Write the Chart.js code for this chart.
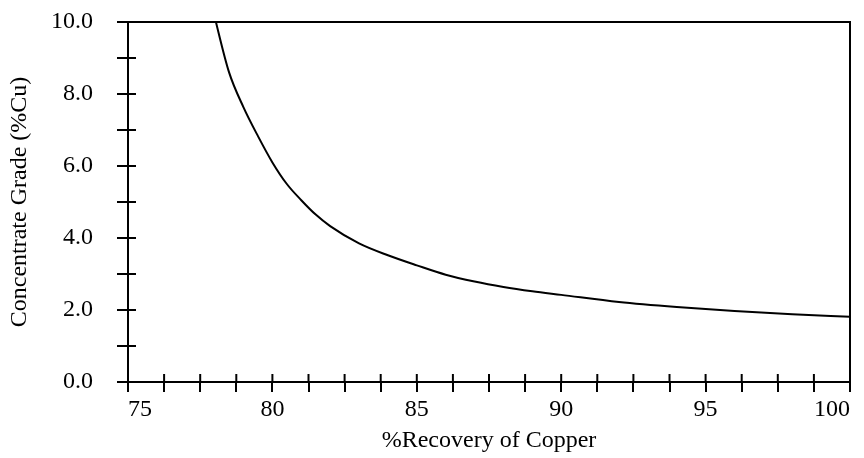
<!DOCTYPE html>
<html>
<head>
<meta charset="utf-8">
<script src="https://cdn.jsdelivr.net/npm/chart.js@4/dist/chart.umd.min.js"></script>
<style>
  html, body { margin: 0; padding: 0; background: #ffffff; }
  #wrap { width: 864px; height: 458px; position: relative; }
</style>
</head>
<body>
<div id="wrap"><canvas id="c"></canvas></div>
<script>
// Data
const recovery = [77.95, 78.5, 79, 79.5, 80, 80.5, 81, 81.5, 82, 83, 84, 85, 86, 87, 88, 89, 90, 92, 94, 96, 98, 100];
const grade    = [10.3, 8.6, 7.63, 6.83, 6.1, 5.5, 5.05, 4.65, 4.33, 3.85, 3.52, 3.24, 2.98, 2.79, 2.64, 2.52, 2.42, 2.22, 2.08, 1.97, 1.88, 1.81];
const xLabelValues = [75, 80, 85, 90, 95, 100];
const yLabelValues = [0, 2, 4, 6, 8, 10];
const xTitle = '%Recovery of Copper';
const yTitle = 'Concentrate Grade (%Cu)';

const FONT = 'Liberation Serif, Times New Roman, serif';

const points = recovery.map((r, i) => ({ x: r, y: grade[i] }));

const frameAndTicks = {
  id: 'frameAndTicks',
  afterDatasetsDraw(chart) {
    const { ctx, chartArea, scales } = chart;
    ctx.save();
    ctx.strokeStyle = '#000';
    ctx.lineWidth = 2;
    ctx.strokeRect(chartArea.left, chartArea.top, chartArea.right - chartArea.left, chartArea.bottom - chartArea.top);
    scales.x.ticks.forEach(t => {
      const px = scales.x.getPixelForValue(t.value);
      ctx.beginPath();
      ctx.moveTo(px, chartArea.bottom);
      ctx.lineTo(px, chartArea.bottom - 8);
      ctx.stroke();
    });
    scales.y.ticks.forEach(t => {
      const py = scales.y.getPixelForValue(t.value);
      ctx.beginPath();
      ctx.moveTo(chartArea.left, py);
      ctx.lineTo(chartArea.left + 8, py);
      ctx.stroke();
    });
    ctx.restore();
  }
};

new Chart(document.getElementById('c'), {
  type: 'line',
  data: {
    datasets: [{
      data: points,
      borderColor: '#000',
      borderWidth: 2,
      pointRadius: 0,
      fill: false,
      cubicInterpolationMode: 'monotone'
    }]
  },
  options: {
    responsive: true,
    maintainAspectRatio: false,
    animation: false,
    devicePixelRatio: 1,
    layout: { padding: { left: 0, right: 14, top: 22, bottom: 0 } },
    plugins: { legend: { display: false }, tooltip: { enabled: false } },
    scales: {
      x: {
        type: 'linear',
        min: 75, max: 100,
        afterFit(scale) { scale.height = 76; scale.paddingLeft = 0; scale.paddingRight = 0; },
        ticks: {
          stepSize: 1.25,
          autoSkip: false,
          maxRotation: 0,
          align: 'inner',
          color: '#000',
          padding: 3,
          font: { family: FONT, size: 24 },
          callback: v => xLabelValues.includes(v) ? String(v) : ''
        },
        grid: { drawOnChartArea: false, drawTicks: true, tickLength: 10, color: '#000', lineWidth: 2 },
        border: { display: true, color: '#000', width: 2 },
        title: { display: true, text: xTitle, color: '#000', font: { family: FONT, size: 24 }, padding: { top: 0, bottom: 3 } }
      },
      y: {
        type: 'linear',
        min: 0, max: 10,
        afterFit(scale) { scale.width = 128; scale.paddingTop = 0; scale.paddingBottom = 0; },
        ticks: {
          stepSize: 1,
          autoSkip: false,
          color: '#000',
          padding: 24,
          font: { family: FONT, size: 24 },
          callback: v => yLabelValues.includes(v) ? v.toFixed(1) : ''
        },
        grid: { drawOnChartArea: false, drawTicks: true, tickLength: 11, color: '#000', lineWidth: 2 },
        border: { display: true, color: '#000', width: 2 },
        title: { display: true, text: yTitle, color: '#000', font: { family: FONT, size: 24 }, padding: { top: 5, bottom: 0 } }
      }
    }
  },
  plugins: [frameAndTicks]
});
</script>
</body>
</html>
